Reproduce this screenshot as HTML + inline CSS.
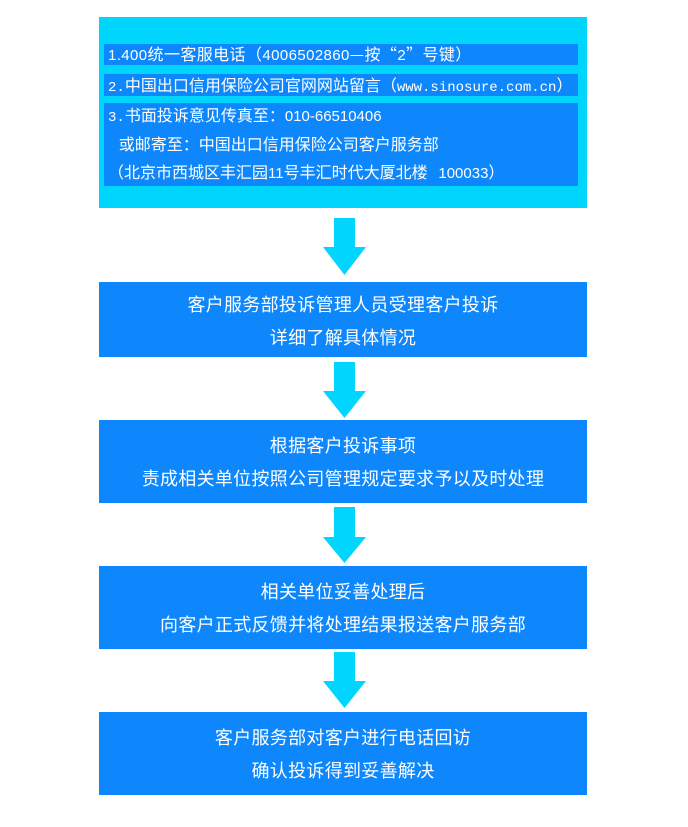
<!DOCTYPE html>
<html><head><meta charset="utf-8"><style>
body{margin:0;width:688px;height:827px;background:#fff;position:relative;overflow:hidden;font-family:"Liberation Sans","Noto Sans CJK SC",sans-serif;color:#fff}
.a{position:absolute}
.outer{left:99px;top:17px;width:488px;height:191px;background:#00d5fd}
.strip{position:absolute;left:104px;width:474px;background:#0d87fb}
.t{position:absolute;left:108px;font-size:16px;height:22px;line-height:22px;white-space:nowrap;font-family:"Noto Sans CJK SC",sans-serif}
.t span{line-height:1}
.m{font-family:"Liberation Mono",monospace;font-size:14px}
.s{font-family:"Liberation Sans",sans-serif;font-size:15px}
.box{position:absolute;left:99px;width:488px;background:#0d87fb;font-size:18px;letter-spacing:0.3px;text-align:center;font-family:"Noto Sans CJK SC",sans-serif}
.box div{position:absolute;left:0;right:0;line-height:22px}
</style></head><body>
<div class="a outer"></div>
<div class="strip" style="top:44px;height:21px"></div>
<div class="strip" style="top:74px;height:22px"></div>
<div class="strip" style="top:103px;height:83px"></div>
<div class="t" style="top:42px;letter-spacing:0.4px"><span class="s">1.400</span>统一客服电话（<span class="s">4006502860</span>—按“<span class="s">2</span>”号键）</div>
<div class="t" style="top:73px"><span class="m">2.</span>中国出口信用保险公司官网网站留言（<span class="m">www.sinosure.com.cn</span>）</div>
<div class="t" style="top:103px"><span class="m">3.</span>书面投诉意见传真至：<span class="s">010-66510406</span></div>
<div class="t" style="top:132px">&nbsp;&nbsp;&nbsp;或邮寄至：中国出口信用保险公司客户服务部</div>
<div class="t" style="top:160px">（北京市西城区丰汇园<span class="s">11</span>号丰汇时代大厦北楼&nbsp;&nbsp;&nbsp;<span class="s">100033</span>）</div>

<svg class="a" style="left:0;top:0" width="688" height="827">
<g fill="#00d5fd">
<path d="M334 218h21v29h11l-21.5 28-21.5-28h11z"/>
<path d="M334 362h21v29h11l-21.5 27-21.5-27h11z"/>
<path d="M334 507h21v30h11l-21.5 26-21.5-26h11z"/>
<path d="M334 652h21v29h11l-21.5 27-21.5-27h11z"/>
</g></svg>

<div class="box" style="top:282px;height:75px"><div style="top:11px">客户服务部投诉管理人员受理客户投诉</div><div style="top:44px">详细了解具体情况</div></div>
<div class="box" style="top:420px;height:83px"><div style="top:14px">根据客户投诉事项</div><div style="top:47px">责成相关单位按照公司管理规定要求予以及时处理</div></div>
<div class="box" style="top:566px;height:83px"><div style="top:14px">相关单位妥善处理后</div><div style="top:47px">向客户正式反馈并将处理结果报送客户服务部</div></div>
<div class="box" style="top:712px;height:83px"><div style="top:14px">客户服务部对客户进行电话回访</div><div style="top:47px">确认投诉得到妥善解决</div></div>
</body></html>
